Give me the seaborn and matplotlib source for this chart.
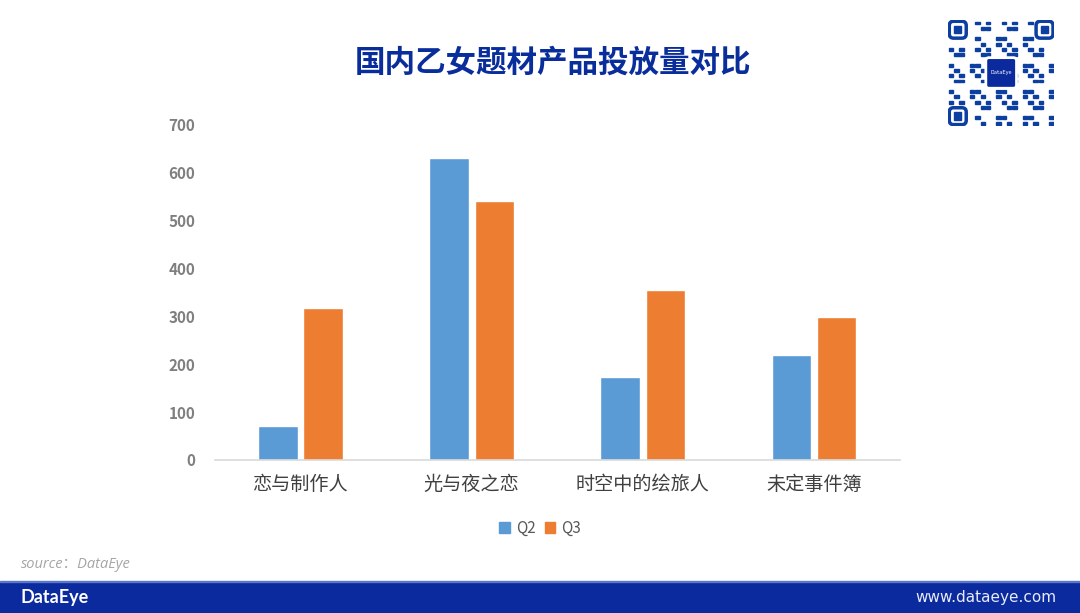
import pandas as pd
import matplotlib.pyplot as plt
import matplotlib.patches as mpatches
import seaborn as sns

games = ["恋与制作人", "光与夜之恋", "时空中的绘旅人", "未定事件簿"]
q2 = [70, 630, 172, 219]
q3 = [317, 540, 355, 298]
quarters = ["Q2", "Q3"]
y_ticks = [0, 100, 200, 300, 400, 500, 600, 700]

title = "国内乙女题材产品投放量对比"
source = "source：DataEye"

df = pd.DataFrame({
    "game": games * 2,
    "quarter": [quarters[0]] * len(games) + [quarters[1]] * len(games),
    "value": q2 + q3,
})

sns.set_theme(style="white")
plt.rcParams["font.family"] = ["Noto Sans CJK SC", "DejaVu Sans"]

fig = plt.figure(figsize=(10.8, 6.13), dpi=100)
ax = fig.add_axes([0.199, 0.2496, 0.634, 0.548])

sns.barplot(data=df, x="game", y="value", hue="quarter", order=games,
            hue_order=quarters, palette=["#5B9BD5", "#ED7D31"],
            width=0.53, gap=0.13, ax=ax, legend=False, saturation=1)

ax.set_ylim(0, 700)
ax.set_yticks(y_ticks)
ax.set_yticklabels([str(t) for t in y_ticks], color="#7f7f7f",
                   fontsize=11, fontweight="bold")
ax.tick_params(axis="y", length=0, pad=14)
ax.tick_params(axis="x", length=0, pad=10, labelsize=13.8, labelcolor="#404040")
ax.set_xlabel("")
ax.set_ylabel("")
for side in ["top", "right", "left"]:
    ax.spines[side].set_visible(False)
ax.spines["bottom"].set_color("#d9d9d9")
ax.spines["bottom"].set_linewidth(1.2)

handles = [mpatches.Patch(color=c, label=q) for c, q in zip(["#5B9BD5", "#ED7D31"], quarters)]
fig.legend(handles=handles, loc="center", bbox_to_anchor=(0.5, 0.138), ncol=2,
           frameon=False, fontsize=11, handlelength=0.7, handleheight=0.7,
           handletextpad=0.4, columnspacing=0.6, labelcolor="#595959")

fig.text(0.512, 0.897, title, ha="center", va="center", fontsize=22,
         fontweight="bold", color="#0a2d9c")
fig.text(0.019, 0.079, source, ha="left", va="center", fontsize=10.5,
         style="italic", color="#a6a6a6",
         family=["Open Sans", "Noto Sans CJK SC", "DejaVu Sans"])

# footer band
fig.patches.append(mpatches.Rectangle((0, 0), 1, 0.05, transform=fig.transFigure,
                                      color="#0a2a9e", zorder=0))
fig.patches.append(mpatches.Rectangle((0, 0.05), 1, 0.003, transform=fig.transFigure,
                                      color="#5b78c8", zorder=0))
fig.text(0.019, 0.025, "DataEye", ha="left", va="center", fontsize=13,
         fontweight="bold", color="white", family=["Lato", "DejaVu Sans"])
fig.text(0.978, 0.025, "www.dataeye.com", ha="right", va="center", fontsize=11,
         color="#e8ecf8", family=["DejaVu Sans"])

# QR code badge (simplified)
qr = fig.add_axes([0.878, 0.795, 0.098, 0.172])
qr.set_xlim(0, 20)
qr.set_ylim(0, 20)
qr.axis("off")
for (x0, y0) in [(0, 16.4), (16.4, 16.4), (0, 0)]:
    qr.add_patch(mpatches.FancyBboxPatch((x0 + 0.3, y0 + 0.3), 3.0, 3.0,
                                         boxstyle="round,pad=0.1,rounding_size=0.8",
                                         fc="white", ec="#0d3fa0", lw=2.5))
    qr.add_patch(mpatches.Rectangle((x0 + 1.1, y0 + 1.1), 1.4, 1.4, color="#0d3fa0"))
for i in range(0, 20):
    for j in range(0, 20):
        if (i < 4.5 and (j < 4.5 or j > 15.5)) or (i > 15.5 and j < 4.5):
            continue
        if (i * 7 + j * 13 + i * j) % 5 < 2:
            qr.add_patch(mpatches.Rectangle((j + 0.1, 19 - i + 0.2), 0.85, 0.55,
                                            color="#0d3fa0"))
qr.add_patch(mpatches.FancyBboxPatch((7.4, 7.4), 5.2, 5.2,
                                     boxstyle="round,pad=0.3,rounding_size=0.6",
                                     fc="#0a2a9e", ec="white", lw=2, zorder=5))
qr.text(10, 10, "DataEye", ha="center", va="center", fontsize=4, color="white", zorder=6)

fig.savefig("out.png", dpi=100)
